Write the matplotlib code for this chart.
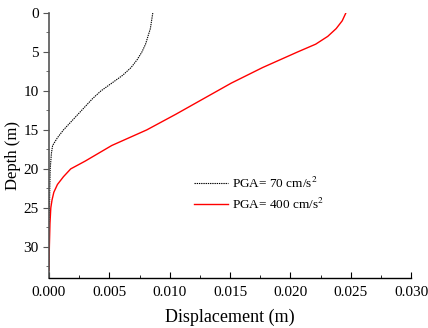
import numpy as np
import matplotlib.pyplot as plt
from matplotlib.ticker import MultipleLocator

plt.rcParams['font.family'] = ['Liberation Serif', 'DejaVu Serif']
plt.rcParams['mathtext.fontset'] = 'stix'

# displacement profiles along depth
depth_70 = [0, 1, 2, 3, 4, 5, 6, 7, 8, 9, 10, 11, 12, 13, 14, 15, 16, 17, 18, 19, 20, 22, 25, 28, 31, 33]
disp_70 = [0.0086, 0.0085, 0.0084, 0.0082, 0.0080, 0.0077, 0.0073, 0.0068, 0.0061, 0.0052, 0.0043,
           0.0036, 0.0030, 0.0024, 0.0018, 0.0012, 0.0007, 0.0003, 0.0002, 0.00015, 0.0001,
           0.00007, 0.00004, 0.00002, 0.00001, 0.0]

depth_400 = [0, 1, 2, 3, 4, 5, 7, 9, 11, 13, 15, 17, 18, 19, 20, 21, 22, 23, 24, 25, 27, 30, 33]
disp_400 = [0.0246, 0.0243, 0.0238, 0.0231, 0.0221, 0.0206, 0.0177, 0.0151, 0.0128, 0.0105, 0.0081,
            0.0052, 0.0041, 0.0030, 0.0018, 0.0012, 0.0007, 0.0004, 0.00025, 0.00015, 0.00008,
            0.00003, 0.0]

fig = plt.figure(figsize=(4.28, 3.28), dpi=100)
ax = fig.add_axes([49 / 428, 1 - 278 / 328, (411 - 49) / 428, (278 - 13) / 328])

ax.plot(disp_70, depth_70, color='black', ls=(0, (1.2, 0.8)), lw=0.8, label='PGA= 70 cm/s$^2$')
ax.plot(disp_400, depth_400, color='red', lw=1.0, label='PGA= 400 cm/s$^2$')

ax.set_xlim(0, 0.030)
ax.set_ylim(34, 0)
ax.xaxis.set_major_locator(MultipleLocator(0.005))
ax.xaxis.set_minor_locator(MultipleLocator(0.0025))
ax.yaxis.set_major_locator(MultipleLocator(5))
ax.yaxis.set_minor_locator(MultipleLocator(2.5))
ax.xaxis.set_major_formatter(lambda v, p: f'{v:.3f}')

for s in ['top', 'right']:
    ax.spines[s].set_visible(False)
ax.spines['left'].set_linewidth(1.2)
ax.spines['left'].set_color('#555555')
ax.spines['bottom'].set_linewidth(1.0)

ax.tick_params(axis='x', which='both', direction='in', labelsize=11, pad=6)
ax.tick_params(axis='x', which='major', length=4)
ax.tick_params(axis='x', which='minor', length=2)
ax.tick_params(axis='y', which='both', direction='out', labelsize=11, color='#555555')
ax.tick_params(axis='y', which='major', length=4)
ax.tick_params(axis='y', which='minor', length=2)

ax.set_xlabel('Displacement (m)', fontsize=13, labelpad=7)
ax.set_ylabel('Depth (m)', fontsize=12)
ax.yaxis.set_label_coords(-0.077, 0.464)

ax.legend(loc='upper left', bbox_to_anchor=(0.385, 0.405), frameon=False, fontsize=9.5,
          handlelength=2.6, handletextpad=0.3, labelspacing=0.45, borderaxespad=0)

fig.savefig('out.png', dpi=100)
